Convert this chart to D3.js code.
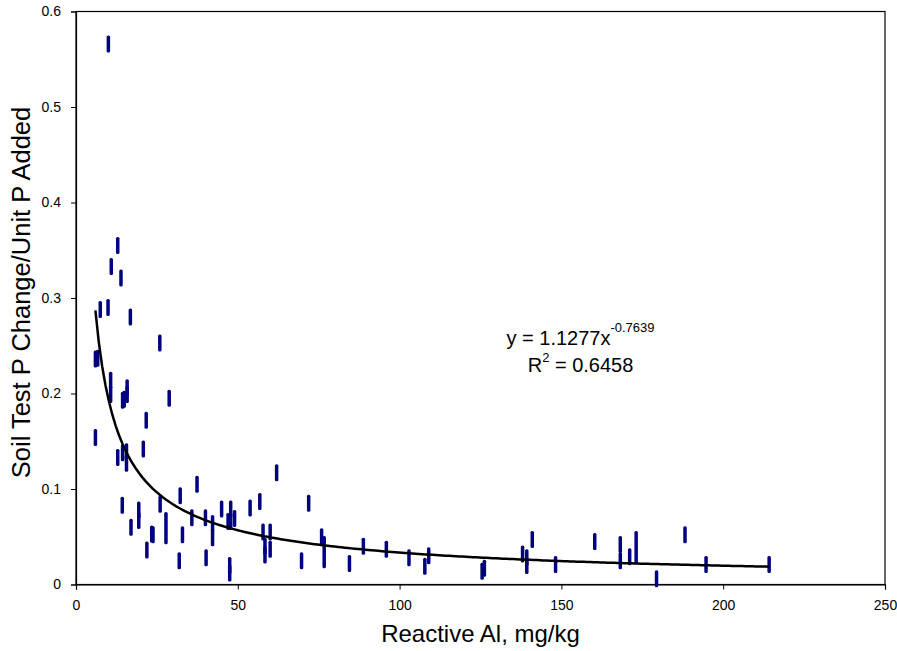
<!DOCTYPE html>
<html>
<head>
<meta charset="utf-8">
<script src="https://cdn.jsdelivr.net/npm/d3@7"></script>
<style>
  body { margin: 0; background: #fff; }
  text { font-family: Arial, "Liberation Sans", sans-serif; }
</style>
</head>
<body>
<div id="graph"></div>
<script>
// reactive Al (mg/kg) and soil test P change per unit P added
var alValues = [10.0, 12.9, 10.9, 13.9, 7.5, 9.9, 16.8, 25.9, 6.0, 6.7,
  10.7, 10.7, 14.4, 14.9, 15.8, 15.8, 28.8, 21.7, 6.0, 20.8,
  12.9, 14.4, 15.6, 15.6, 14.3, 17.0, 19.4, 19.4, 21.9, 23.4,
  23.8, 26.0, 27.8, 27.8, 31.9, 32.2, 32.9, 35.8, 37.4, 40.0,
  40.2, 42.2, 42.2, 45.0, 47.0, 47.8, 47.8, 49.0, 47.5, 47.5,
  53.8, 56.8, 57.8, 58.4, 58.4, 60.0, 60.0, 62.0, 71.9, 69.7,
  75.9, 76.7, 76.7, 84.5, 88.8, 95.9, 102.9, 109.0, 107.8, 125.5,
  126.2, 138.0, 139.3, 139.3, 141.0, 148.2, 160.3, 168.2, 168.2, 171.1,
  173.1, 173.1, 179.4, 188.2, 194.7, 214.2];
var pChange = [0.566, 0.355, 0.333, 0.321, 0.288, 0.290, 0.280, 0.253, 0.236, 0.237,
  0.214, 0.199, 0.193, 0.194, 0.206, 0.199, 0.195, 0.172, 0.154, 0.142,
  0.133, 0.138, 0.139, 0.127, 0.083, 0.060, 0.078, 0.067, 0.036, 0.053,
  0.052, 0.084, 0.067, 0.051, 0.025, 0.093, 0.052, 0.070, 0.105, 0.070,
  0.028, 0.064, 0.049, 0.079, 0.066, 0.079, 0.066, 0.069, 0.020, 0.012,
  0.080, 0.087, 0.055, 0.040, 0.031, 0.055, 0.037, 0.117, 0.085, 0.025,
  0.050, 0.042, 0.026, 0.022, 0.040, 0.037, 0.028, 0.030, 0.019, 0.014,
  0.017, 0.032, 0.028, 0.020, 0.047, 0.021, 0.045, 0.042, 0.025, 0.029,
  0.047, 0.031, 0.006, 0.052, 0.021, 0.021];

var xTicks = [0, 50, 100, 150, 200, 250];
var yTicks = [0, 0.1, 0.2, 0.3, 0.4, 0.5, 0.6];

// power trendline y = a * x^b
var fitA = 1.1277;
var fitB = -0.7639;
var fitR2 = "0.6458";

var svgWidth = 897;
var svgHeight = 651;

var margin = { top: 11.5, right: 12, bottom: 66.5, left: 76 };
var chartWidth = svgWidth - margin.left - margin.right;
var chartHeight = svgHeight - margin.top - margin.bottom;

var svg = d3.select("#graph")
  .append("svg")
  .attr("width", svgWidth)
  .attr("height", svgHeight);

var chartGroup = svg.append("g")
  .attr("transform", `translate(${margin.left}, ${margin.top})`);

var xScale = d3.scaleLinear().domain([0, 250]).range([0, chartWidth]);
var yScale = d3.scaleLinear().domain([0, 0.6]).range([chartHeight, 0]);

// plot frame
chartGroup.append("rect")
  .attr("width", chartWidth)
  .attr("height", chartHeight)
  .attr("fill", "none")
  .attr("stroke", "#000")
  .attr("stroke-width", 1.2);

var leftAxis = d3.axisLeft(yScale)
  .tickValues(yTicks)
  .tickSize(5)
  .tickPadding(10)
  .tickFormat(d => d === 0 ? "0" : d3.format(".1f")(d));

var bottomAxis = d3.axisBottom(xScale)
  .tickValues(xTicks)
  .tickSize(5)
  .tickPadding(11)
  .tickFormat(d3.format("d"));

var yAxisG = chartGroup.append("g").call(leftAxis);
var xAxisG = chartGroup.append("g")
  .attr("transform", `translate(0, ${chartHeight})`)
  .call(bottomAxis);

[yAxisG, xAxisG].forEach(function (g) {
  g.select(".domain").attr("stroke", "#000").attr("stroke-width", 1.2);
  g.selectAll(".tick line").attr("stroke", "#000").attr("stroke-width", 1);
  g.selectAll(".tick text")
    .attr("fill", "#000")
    .style("font-size", "14px")
    .style("font-family", "Arial, 'Liberation Sans', sans-serif");
});

// data markers: short vertical dashes
var points = alValues.map((x, i) => ({ x: x, y: pChange[i] }));

chartGroup.selectAll(".dash")
  .data(points)
  .enter()
  .append("rect")
  .attr("class", "dash")
  .attr("x", d => xScale(d.x) - 1.75)
  .attr("y", d => yScale(d.y) - 8.5)
  .attr("width", 3.5)
  .attr("height", 17)
  .attr("rx", 1.5)
  .attr("fill", "#000080");

// trendline from min x to max x
var xMin = d3.min(alValues);
var xMax = d3.max(alValues);
var fitPts = d3.range(0, 201).map(function (i) {
  var x = xMin + (xMax - xMin) * i / 200;
  return { x: x, y: fitA * Math.pow(x, fitB) };
});

var drawLine = d3.line()
  .x(d => xScale(d.x))
  .y(d => yScale(d.y));

chartGroup.append("path")
  .attr("d", drawLine(fitPts))
  .attr("fill", "none")
  .attr("stroke", "#000")
  .attr("stroke-width", 2.5);

// equation label
var eq = svg.append("text")
  .attr("x", 580.5)
  .attr("y", 345)
  .attr("text-anchor", "middle")
  .style("font-size", "20px")
  .attr("fill", "#000");
eq.append("tspan").text("y = " + fitA + "x");
eq.append("tspan")
  .attr("dy", -13)
  .style("font-size", "13px")
  .text(String(fitB));

var r2 = svg.append("text")
  .attr("x", 580.5)
  .attr("y", 372)
  .attr("text-anchor", "middle")
  .style("font-size", "20px")
  .attr("fill", "#000");
r2.append("tspan").text("R");
r2.append("tspan")
  .attr("dy", -10)
  .style("font-size", "13px")
  .text("2");
r2.append("tspan")
  .attr("dy", 10)
  .text(" = " + fitR2);

// axis titles
svg.append("text")
  .attr("x", margin.left + chartWidth / 2)
  .attr("y", 642)
  .attr("text-anchor", "middle")
  .style("font-size", "24px")
  .attr("fill", "#000")
  .text("Reactive Al, mg/kg");

svg.append("text")
  .attr("transform", `translate(30, 292.5) rotate(-90)`)
  .attr("text-anchor", "middle")
  .style("font-size", "25.5px")
  .attr("fill", "#000")
  .text("Soil Test P Change/Unit P Added");
</script>
</body>
</html>
